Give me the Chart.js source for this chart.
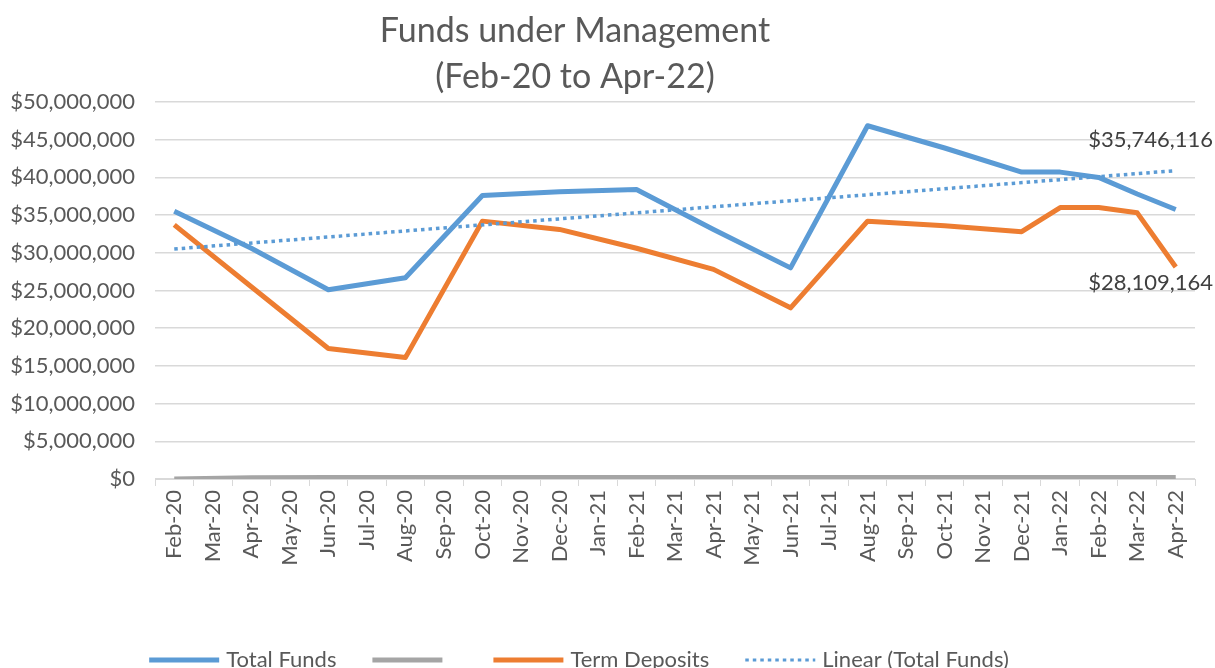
<!DOCTYPE html>
<html>
<head>
<meta charset="utf-8">
<script src="https://cdn.jsdelivr.net/npm/chart.js@4.4.1/dist/chart.umd.min.js"></script>
<style>
  html, body { margin: 0; padding: 0; background: #fff; overflow: hidden; }
  #wrap { width: 1215px; height: 681px; position: relative; }
</style>
</head>
<body>
<div id="wrap"><canvas id="fundsChart"></canvas></div>
<script>
// months on the category axis
const months = ['Feb-20', 'Mar-20', 'Apr-20', 'May-20', 'Jun-20', 'Jul-20', 'Aug-20', 'Sep-20',
  'Oct-20', 'Nov-20', 'Dec-20', 'Jan-21', 'Feb-21', 'Mar-21', 'Apr-21', 'May-21', 'Jun-21',
  'Jul-21', 'Aug-21', 'Sep-21', 'Oct-21', 'Nov-21', 'Dec-21', 'Jan-22', 'Feb-22', 'Mar-22', 'Apr-22'];

// values (null = no reading that month)
const totalFunds = [35500000, null, 30600000, null, 25100000, null, 26700000, null,
  37600000, null, 38100000, null, 38400000, null, 33100000, null, 28000000,
  null, 46850000, null, 43900000, null, 40700000, 40700000, 40000000, 37800000, 35746116];

const otherFunds = [0, null, 150000, null, 200000, null, 200000, null,
  200000, null, 200000, null, 200000, null, 200000, null, 200000,
  null, 200000, null, 200000, null, 200000, 200000, 200000, 200000, 200000];

const termDeposits = [33700000, null, 25500000, null, 17300000, null, 16100000, null,
  34200000, null, 33100000, null, 30600000, null, 27800000, null, 22700000,
  null, 34200000, null, 33600000, null, 32800000, 36000000, 36000000, 35300000, 28109164];

// trend line end points
const linearTotal = [30500000, null, null, null, null, null, null, null,
  null, null, null, null, null, null, null, null, null,
  null, null, null, null, null, null, null, null, null, 40900000];

const titleLines = ['Funds under Management', '(Feb-20 to Apr-22)'];

const FONT = 'Lato, "Open Sans", sans-serif';
const TEXT_COL = '#595959';

function money(v) {
  return '$' + Math.round(v).toLocaleString('en-US');
}

const extras = {
  id: 'extras',
  afterDatasetsDraw(chart) {
    const ctx = chart.ctx;
    ctx.save();
    ctx.font = '22px ' + FONT;
    ctx.fillStyle = '#404040';
    ctx.textAlign = 'right';
    ctx.textBaseline = 'middle';
    // end-of-series value labels
    [[0, -70], [2, 16]].forEach(([di, dy]) => {
      const meta = chart.getDatasetMeta(di);
      const last = meta.data.length - 1;
      const pt = meta.data[last];
      const v = chart.data.datasets[di].data[last];
      ctx.fillText(money(v), chart.width - 2, pt.y + dy);
    });
    ctx.restore();
  },
  afterDraw(chart) {
    const ctx = chart.ctx;
    ctx.save();
    // title
    ctx.fillStyle = TEXT_COL;
    ctx.font = '34px ' + FONT;
    ctx.textAlign = 'center';
    ctx.textBaseline = 'middle';
    ctx.fillText(titleLines[0], 575, 31);
    ctx.fillText(titleLines[1], 575, 77);

    // legend
    ctx.font = '22px ' + FONT;
    const sample = 70, gap = 7, itemGap = 36;
    const items = chart.data.datasets.map(ds => {
      const tw = ds.label ? ctx.measureText(ds.label).width : 8;
      return { ds, w: sample + gap + tw };
    });
    const total = items.reduce((s, it) => s + it.w, 0) + itemGap * (items.length - 1);
    let x = 579 - total / 2;
    const y = 660;
    ctx.textAlign = 'left';
    items.forEach(it => {
      const ds = it.ds;
      ctx.beginPath();
      ctx.strokeStyle = ds.borderColor;
      ctx.lineWidth = ds.borderDash ? 3 : 5;
      ctx.setLineDash(ds.borderDash || []);
      ctx.lineCap = 'butt';
      ctx.moveTo(x, y);
      ctx.lineTo(x + sample, y);
      ctx.stroke();
      ctx.setLineDash([]);
      ctx.fillStyle = TEXT_COL;
      if (ds.label) ctx.fillText(ds.label, x + sample + gap, y);
      x += it.w + itemGap;
    });
    ctx.restore();
  }
};

const ctx = document.getElementById('fundsChart').getContext('2d');
const chart = new Chart(ctx, {
  type: 'line',
  data: {
    labels: months,
    datasets: [{
      label: 'Total Funds',
      data: totalFunds,
      borderColor: '#5B9BD5',
      borderWidth: 5,
      order: 2
    }, {
      label: '',
      data: otherFunds,
      borderColor: '#A5A5A5',
      borderWidth: 5,
      order: 3
    }, {
      label: 'Term Deposits',
      data: termDeposits,
      borderColor: '#ED7D31',
      borderWidth: 5,
      order: 2
    }, {
      label: 'Linear (Total Funds)',
      data: linearTotal,
      borderColor: '#5B9BD5',
      borderWidth: 3.5,
      borderDash: [3.5, 4],
      borderCapStyle: 'butt',
      order: 1
    }]
  },
  options: {
    responsive: true,
    maintainAspectRatio: false,
    animation: false,
    spanGaps: true,
    elements: {
      point: { radius: 0, hoverRadius: 0 },
      line: { tension: 0, fill: false, borderJoinStyle: 'round' }
    },
    layout: { padding: { top: 102, right: 20, left: 0, bottom: 0 } },
    plugins: {
      legend: { display: false },
      title: { display: false },
      tooltip: { enabled: false }
    },
    scales: {
      x: {
        offset: true,
        afterFit: s => { s.height = 202; },
        grid: {
          offset: true,
          drawOnChartArea: false,
          drawTicks: true,
          tickLength: 7,
          color: '#d9d9d9'
        },
        border: { display: true, color: '#d9d9d9' },
        ticks: {
          autoSkip: false,
          minRotation: 90,
          maxRotation: 90,
          color: TEXT_COL,
          font: { family: FONT, size: 22 },
          padding: 4
        }
      },
      y: {
        min: 0,
        max: 50000000,
        afterFit: s => { s.width = 155; },
        grid: { color: '#d9d9d9', drawTicks: false, lineWidth: 1.5 },
        border: { display: false },
        ticks: {
          stepSize: 5000000,
          color: TEXT_COL,
          font: { family: FONT, size: 22 },
          padding: 20,
          callback: v => money(v)
        }
      }
    }
  },
  plugins: [extras]
});
</script>
</body>
</html>
